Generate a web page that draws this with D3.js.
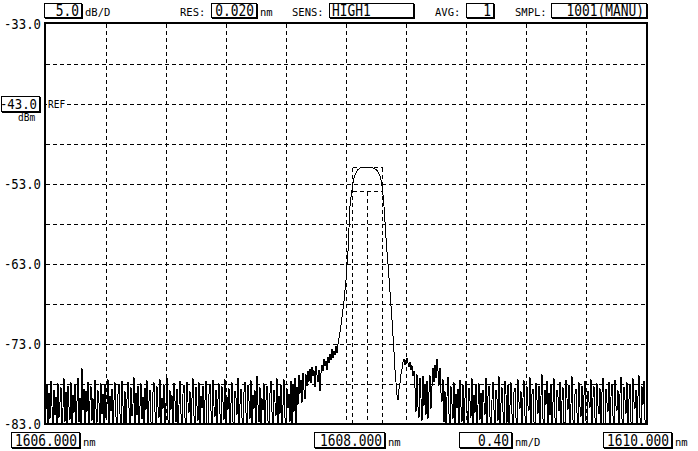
<!DOCTYPE html>
<html>
<head>
<meta charset="UTF-8">
<title>OSA trace</title>
<style>
body {
  margin: 0;
  background: #fff;
}
svg text {
  font-family: "DejaVu Sans Mono", "Liberation Mono", monospace;
  fill: #000;
}
</style>
</head>
<body>
<script src="https://cdn.jsdelivr.net/npm/d3@7/dist/d3.min.js"></script>
<script>
// ---- chart values ----
var xDomain = [1606, 1610];          // nm
var yDomain = [-83, -33];            // dBm
var xDiv = 0.4;                      // nm per division
var yDiv = 5;                        // dB per division
var yTickLabels = {"-33": "-33.0", "-53": "-53.0", "-63": "-63.0", "-73": "-73.0", "-83": "-83.0"};
var refLevel = -43;
var refText = "-43.0";

var headerLabels = ["", "RES:", "SENS:", "AVG:", "SMPL:"];
var headerValues = ["5.0", "0.020", "HIGH1", "1", "1001(MANU)"];
var headerUnits  = ["dB/D", "nm", "", "", ""];
var footerValues = ["1606.000", "1608.000", "0.40", "1610.000"];
var footerUnits  = ["nm", "nm", "nm/D", "nm"];

var traceStart = 1606, traceStep = 4 / 600;
var noiseLeft = [
  -81.2, -78.0, -83.0, -79.1, -82.4, -77.6, -80.8, -83.0, -78.7, -81.9, -79.6, -83.0, -77.9, -82.2, -80.3, -78.4, -83.0, -81.0, -77.3, -82.7,
  -79.0, -83.0, -78.2, -80.9, -82.5, -77.8, -83.0, -79.4, -81.6, -78.1, -83.0, -80.2, -77.2, -82.8, -79.7, -83.0, -76.0, -81.3, -78.6, -83.0,
  -78.9, -81.5, -77.7, -83.0, -80.1, -78.3, -82.6, -79.8, -83.0, -77.5, -81.1, -82.9, -78.8, -80.4, -83.0, -77.9, -81.8, -79.2, -83.0, -78.0,
  -82.3, -80.6, -77.4, -83.0, -79.5, -81.4, -78.6, -83.0, -80.0, -77.8, -82.1, -83.0, -79.3, -78.1, -81.7, -83.0, -77.6, -80.7, -82.9, -78.9,
  -83.0, -79.9, -77.7, -81.0, -83.0, -78.4, -82.0, -80.5, -77.1, -83.0, -79.1, -81.9, -78.2, -83.0, -80.8, -77.9, -82.4, -79.6, -83.0, -78.5,
  -81.3, -77.5, -83.0, -80.2, -78.7, -82.7, -83.0, -79.0, -77.8, -81.5, -83.0, -78.3, -80.9, -82.2, -77.4, -83.0, -79.7, -81.1, -78.0, -83.0,
  -80.4, -77.2, -82.5, -83.0, -78.8, -81.2, -79.4, -83.0, -77.9, -80.1, -82.8, -78.6, -83.0, -80.6, -77.6, -81.8, -83.0, -79.2, -78.1, -82.3,
  -83.0, -77.7, -80.3, -81.6, -78.9, -83.0, -79.8, -77.3, -82.0, -83.0, -78.4, -80.7, -82.6, -77.8, -83.0, -79.5, -81.0, -78.2, -83.0, -80.0,
  -77.6, -82.9, -83.0, -79.3, -78.0, -81.4, -83.0, -77.5, -80.8, -82.1, -78.7, -83.0, -79.9, -77.9, -81.7, -83.0, -78.3, -80.2, -82.5, -77.4,
  -83.0, -79.6, -81.2, -78.5, -83.0, -80.4, -77.8, -82.7, -83.0, -78.9, -79.7, -81.9, -77.2, -83.0, -80.5, -78.6, -82.2, -83.0, -79.0, -77.7,
  -81.6, -83.0, -78.1, -80.1, -82.4, -77.5, -83.0, -79.4, -81.1, -78.8, -83.0, -77.0, -80.6, -82.8, -78.4, -83.0, -79.8, -81.3, -77.9, -83.0,
  -80.0, -78.2, -82.6, -83.0, -79.1, -77.6, -81.5, -83.0, -78.7, -80.3, -82.0, -77.3, -83.0, -79.5, -81.8, -78.0, -83.0, -80.7, -77.4, -82.3,
  -83.0, -78.6, -81.0, -79.2
];
var shoulderLeft = [
  -82.8, -77.6, -83.0, -78.0, -81.5, -77.2, -83.0, -78.4, -80.6, -76.9,
  -79.2, -77.5, -80.4, -76.6, -78.8, -79.9, -76.8, -78.3, -76.4, -77.7,
  -76.1, -77.9, -75.9, -77.0, -76.3, -78.4, -75.8, -76.9, -77.8, -76.2,
  -78.9, -76.7, -75.6, -76.4, -74.9, -75.8, -75.1, -76.3, -74.6, -75.4,
  -74.2, -75.0, -73.6, -74.7, -73.9, -74.4, -73.3, -74.1, -73.0, -72.3
];
var peak = [
  -71.5, -70.6, -69.6, -68.6, -67.6, -66.3, -65.0, -63.2, -61.4, -58.5,
  -55.8, -54.6, -53.7, -52.9, -52.3, -51.9, -51.6, -51.4, -51.2, -51.1,
  -51.0, -50.9, -50.9, -50.9, -50.9, -50.9, -50.9, -50.9, -50.9, -50.9,
  -50.9, -50.9, -50.9, -51.0, -51.0, -51.1, -51.2, -51.3, -51.5, -51.7,
  -52.0, -52.5, -53.3, -54.4, -55.8, -57.7, -59.7, -61.5, -63.0, -64.7,
  -66.5, -68.2, -70.0, -72.0
];
var shoulderRight = [
  -74.0, -76.2, -77.8, -79.4, -80.0, -78.6, -77.9, -76.8, -76.1, -75.3,
  -74.9, -75.6, -75.0, -74.8, -75.4, -75.9, -75.2, -76.3, -75.7, -77.0,
  -76.4, -78.5, -81.5, -76.8, -80.9, -82.2, -77.2, -79.8, -82.6, -77.0,
  -80.7, -78.1, -81.9, -77.6, -82.4, -79.0, -76.9, -81.1, -78.3, -76.0,
  -77.8, -75.6, -77.3, -74.9, -76.4, -78.2, -76.0, -79.1
];
var noiseRight = [
  -80.2, -77.4, -82.8, -78.9, -83.0, -79.6, -77.1, -81.7, -83.0, -78.3, -80.5, -82.4, -77.8, -83.0, -79.2, -81.0, -78.6, -83.0, -77.5, -80.9,
  -82.7, -78.1, -83.0, -79.8, -77.6, -81.4, -83.0, -78.5, -80.1, -82.2, -77.3, -83.0, -79.4, -81.6, -78.0, -83.0, -80.6, -77.9, -82.5, -79.1,
  -83.0, -78.7, -80.3, -81.9, -77.2, -83.0, -79.5, -78.2, -82.1, -83.0, -80.0, -77.7, -81.2, -83.0, -78.8, -79.9, -82.6, -77.0, -83.0, -80.4,
  -78.4, -81.5, -83.0, -77.6, -79.3, -82.9, -78.1, -83.0, -80.7, -77.8, -81.8, -83.0, -79.0, -78.5, -82.3, -83.0, -77.4, -80.2, -81.1, -78.9,
  -83.0, -79.7, -77.5, -82.0, -83.0, -78.3, -80.8, -81.3, -77.1, -83.0, -79.2, -78.6, -82.7, -83.0, -77.9, -80.0, -81.7, -78.2, -83.0, -79.5,
  -76.8, -82.4, -83.0, -78.7, -80.6, -77.6, -83.0, -79.1, -81.9, -78.0, -83.0, -80.3, -77.3, -82.2, -83.0, -78.8, -79.6, -81.4, -77.7, -83.0,
  -80.1, -78.4, -82.8, -83.0, -77.5, -79.8, -81.2, -78.1, -83.0, -80.5, -77.0, -82.5, -83.0, -79.3, -78.6, -81.6, -83.0, -77.8, -80.9, -82.1,
  -78.2, -83.0, -79.4, -77.6, -82.6, -83.0, -78.9, -80.2, -81.0, -77.4, -83.0, -79.7, -78.3, -82.3, -83.0, -77.9, -80.7, -81.8, -78.5, -83.0,
  -79.0, -77.2, -82.9, -83.0, -78.6, -80.4, -81.5, -77.7, -83.0, -79.6, -78.0, -82.0, -83.0, -77.5, -80.8, -81.3, -78.8, -83.0, -79.2, -77.1,
  -82.4, -83.0, -78.4, -80.0, -81.7, -77.8, -83.0, -79.9, -78.1, -82.7, -83.0, -77.3, -80.3, -81.1, -78.7, -83.0, -79.5, -76.9, -82.2, -83.0,
  -78.3, -80.6, -77.6, -82.5, -83.0
];

// peak search markers: left edge, centre, right edge (nm) and levels (dBm)
var peakMarkers = [1608.04, 1608.14, 1608.24];
var peakLevel = -50.9;
var halfLevel = -53.9;

// ---- layout ----
var width = 698, height = 451;
var plot = {left: 46, right: 646, top: 24, bottom: 424};

var svg = d3.select("body").append("svg")
  .attr("width", width)
  .attr("height", height);

var x = d3.scaleLinear().domain(xDomain).range([plot.left, plot.right]);
var y = d3.scaleLinear().domain(yDomain).range([plot.bottom, plot.top]);

var crisp = function(v) { return Math.round(v) + 0.5; };

var text = function(g, px, py, str, size, anchor, sx) {
  return g.append("text")
    .attr("transform", "translate(" + px + "," + py + ") scale(" + (sx || 1) + ",1)")
    .attr("text-anchor", anchor || "start")
    .style("font-size", size + "px")
    .text(str);
};

var box = function(g, bx, by, bw, bh) {
  g.append("rect")
    .attr("x", bx + 0.5).attr("y", by + 0.5)
    .attr("width", bw).attr("height", bh)
    .attr("fill", "#fff").attr("stroke", "#000").attr("stroke-width", 1);
  // heavier right / bottom edge
  g.append("path")
    .attr("d", "M" + (bx + bw + 1.5) + "," + (by + 1) + "V" + (by + bh + 2) +
               "M" + (bx + 1) + "," + (by + bh + 1.5) + "H" + (bx + bw + 2))
    .attr("stroke", "#000").attr("fill", "none");
};

// ---- grid ----
var grid = svg.append("g")
  .attr("stroke", "#000")
  .attr("stroke-width", 1)
  .attr("stroke-dasharray", "4,3")
  .attr("shape-rendering", "crispEdges");

var xTicks = d3.range(xDomain[0] + xDiv, xDomain[1] - xDiv / 2, xDiv);
var yTicks = d3.range(yDomain[0] + yDiv, yDomain[1] - yDiv / 2, yDiv);

grid.selectAll(".vg").data(xTicks).enter().append("line")
  .attr("x1", function(d) { return crisp(x(d)); })
  .attr("x2", function(d) { return crisp(x(d)); })
  .attr("y1", plot.top)
  .attr("y2", plot.bottom);

grid.selectAll(".hg").data(yTicks).enter().append("line")
  .attr("y1", function(d) { return crisp(y(d)); })
  .attr("y2", function(d) { return crisp(y(d)); })
  .attr("x1", plot.left)
  .attr("x2", plot.right);

// ---- peak markers ----
var mk = svg.append("g")
  .attr("stroke", "#000")
  .attr("stroke-dasharray", "4,3")
  .attr("shape-rendering", "crispEdges")
  .attr("fill", "none");
var mx = peakMarkers.map(function(d) { return crisp(x(d)); });
mk.append("line").attr("x1", mx[0]).attr("x2", mx[2])
  .attr("y1", crisp(y(peakLevel))).attr("y2", crisp(y(peakLevel)));
mk.append("line").attr("x1", mx[0]).attr("x2", mx[2])
  .attr("y1", crisp(y(halfLevel))).attr("y2", crisp(y(halfLevel)));
mk.append("line").attr("x1", mx[0]).attr("x2", mx[0])
  .attr("y1", crisp(y(peakLevel))).attr("y2", plot.bottom);
mk.append("line").attr("x1", mx[2]).attr("x2", mx[2])
  .attr("y1", crisp(y(peakLevel))).attr("y2", plot.bottom);
mk.append("line").attr("x1", mx[1]).attr("x2", mx[1])
  .attr("y1", crisp(y(halfLevel))).attr("y2", plot.bottom);

// ---- trace ----
var trace = [].concat(noiseLeft, shoulderLeft, peak, shoulderRight, noiseRight);

svg.append("clipPath").attr("id", "clip")
  .append("rect")
  .attr("x", plot.left).attr("y", plot.top)
  .attr("width", plot.right - plot.left).attr("height", plot.bottom - plot.top);

var line = d3.line()
  .x(function(d, i) { return x(traceStart + i * traceStep); })
  .y(function(d) { return y(Math.max(d, yDomain[0])); });

svg.append("path")
  .datum(trace)
  .attr("clip-path", "url(#clip)")
  .attr("d", line)
  .attr("fill", "none")
  .attr("stroke", "#000")
  .attr("stroke-width", 1)
  .attr("shape-rendering", "crispEdges");

// ---- frame ----
svg.append("rect")
  .attr("x", plot.left - 1).attr("y", plot.top - 1)
  .attr("width", plot.right - plot.left + 2).attr("height", plot.bottom - plot.top + 1)
  .attr("fill", "none")
  .attr("stroke", "#000")
  .attr("stroke-width", 2)
  .attr("shape-rendering", "crispEdges");

// ---- y labels ----
var yl = svg.append("g");
Object.keys(yTickLabels).forEach(function(k) {
  text(yl, 41, y(+k) + 5, yTickLabels[k], 14, "end", 0.88);
});

// reference level box
var ref = svg.append("g");
box(ref, 1, 96, 38, 15);
text(ref, 37, 109, refText, 14, "end", 0.88);
ref.append("rect").attr("x", 47).attr("y", y(refLevel) - 5)
  .attr("width", 19).attr("height", 10).attr("fill", "#fff");
text(ref, 48, y(refLevel) + 4, "REF", 10, "start", 0.95);
text(ref, 18, 121, "dBm", 10, "start", 0.95);

// ---- header ----
var headBoxX  = [44, 211, 329, 466, 551];
var headBoxW  = [37, 45, 84, 27, 95];
var headLabX  = [0, 180, 292, 435, 515];
var head = svg.append("g");
headerValues.forEach(function(v, i) {
  if (headerLabels[i]) text(head, headLabX[i], 16, headerLabels[i], 10.5, "start", 1);
  box(head, headBoxX[i], 3, headBoxW[i], 14);
  if (i == 2)
    text(head, headBoxX[i] + 3, 16, v, 15, "start", 0.86);
  else
    text(head, headBoxX[i] + headBoxW[i] - 2, 16, v, 15, "end", 0.86);
  if (headerUnits[i]) text(head, headBoxX[i] + headBoxW[i] + 4, 16, headerUnits[i], 10.5, "start", 1);
});

// ---- footer ----
var footBoxX = [11, 314, 459, 603];
var footBoxW = [68, 70, 52, 68];
var foot = svg.append("g");
footerValues.forEach(function(v, i) {
  box(foot, footBoxX[i], 432, footBoxW[i], 15);
  text(foot, footBoxX[i] + footBoxW[i] - 2, 446, v, 15, "end", 0.86);
  text(foot, footBoxX[i] + footBoxW[i] + 4, 446, footerUnits[i], 10.5, "start", 1);
});
</script>
</body>
</html>
